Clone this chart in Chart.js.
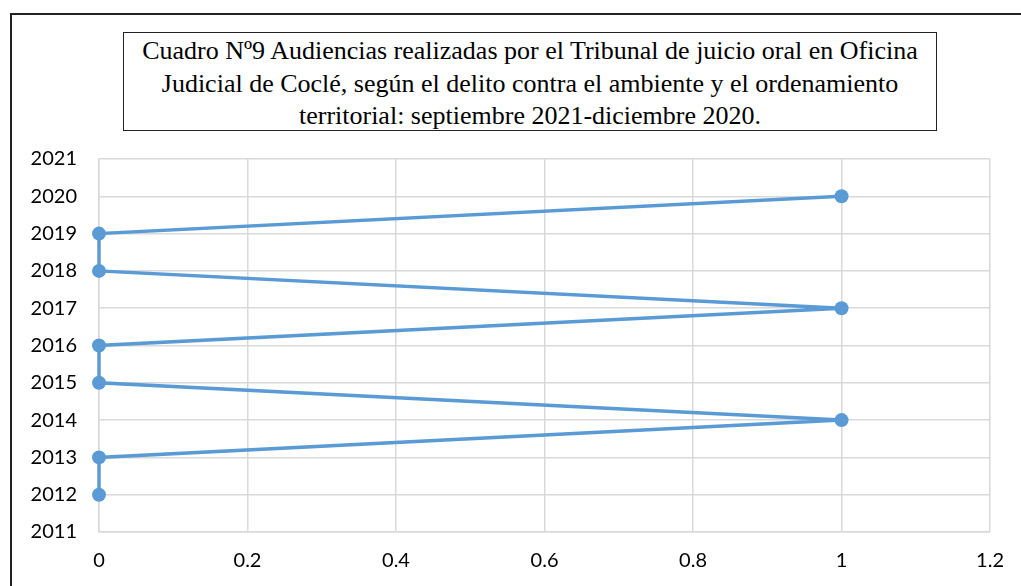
<!DOCTYPE html>
<html>
<head>
<meta charset="utf-8">
<script src="https://cdn.jsdelivr.net/npm/chart.js@4.4.1/dist/chart.umd.min.js"></script>
<style>
  body { margin: 0; background: #fff; }
  #wrap { position: relative; width: 1021px; height: 586px; overflow: hidden; }
  #frame { position: absolute; left: 10px; top: 13px; width: 1030px; height: 600px;
           border-left: 2px solid #222; border-top: 2px solid #222; }
  #title { position: absolute; left: 123px; top: 32px; width: 814px; height: 99px;
           border: 1px solid #222; font-family: "Liberation Serif", "Times New Roman", serif;
           font-size: 26px; line-height: 32.5px; text-align: center; box-sizing: border-box;
           padding-top: 2px; background: #fff; z-index: 2; white-space: nowrap; }
  canvas { position: absolute; left: 0; top: 0; }
</style>
</head>
<body>
<div id="wrap">
  <div id="frame"></div>
  <div id="title">Cuadro Nº9 Audiencias realizadas por el Tribunal de juicio oral en Oficina<br>Judicial de Coclé, según el delito contra el ambiente y el ordenamiento<br>territorial: septiembre 2021-diciembre 2020.</div>
  <canvas id="chart" width="1021" height="586"></canvas>
</div>
<script>
// audiencias por año (x = cantidad, y = año)
var years = [2012, 2013, 2014, 2015, 2016, 2017, 2018, 2019, 2020];
var hearings = [0, 0, 1, 0, 0, 1, 0, 0, 1];
var xTicks = [0, 0.2, 0.4, 0.6, 0.8, 1, 1.2];
var yTicks = [2011, 2012, 2013, 2014, 2015, 2016, 2017, 2018, 2019, 2020, 2021];

var points = years.map(function(y, i) { return { x: hearings[i], y: y }; });
var tickFont = { family: 'Lato, "Open Sans", sans-serif', size: 20 };

new Chart(document.getElementById('chart').getContext('2d'), {
    type: 'scatter',
    data: {
        datasets: [{
            data: points,
            showLine: true,
            borderColor: '#5b9bd5',
            backgroundColor: '#5b9bd5',
            borderWidth: 3.5,
            pointRadius: 7,
            pointBorderWidth: 0,
            clip: false
        }]
    },
    options: {
        responsive: false,
        animation: false,
        layout: { padding: { left: 11, right: 30, top: 159, bottom: 0 } },
        plugins: { legend: { display: false }, tooltip: { enabled: false } },
        scales: {
            x: {
                min: 0, max: 1.2,
                afterBuildTicks: function(s) { s.ticks = xTicks.map(function(v) { return { value: v }; }); },
                afterFit: function(s) { s.height = 54; },
                grid: { color: '#d9d9d9', lineWidth: 1.5, drawTicks: false },
                border: { color: '#d9d9d9', width: 1.5 },
                ticks: { color: '#000', font: tickFont, padding: 17,
                         callback: function(v) { return String(Math.round(v * 10) / 10); } }
            },
            y: {
                min: 2011, max: 2021,
                afterBuildTicks: function(s) { s.ticks = yTicks.map(function(v) { return { value: v }; }); },
                afterFit: function(s) { s.width = 88; },
                grid: { color: '#d9d9d9', lineWidth: 1.5, drawTicks: false },
                border: { color: '#d9d9d9', width: 1.5 },
                ticks: { color: '#000', font: tickFont, padding: 22,
                         callback: function(v) { return String(v); } }
            }
        }
    }
});
</script>
</body>
</html>
